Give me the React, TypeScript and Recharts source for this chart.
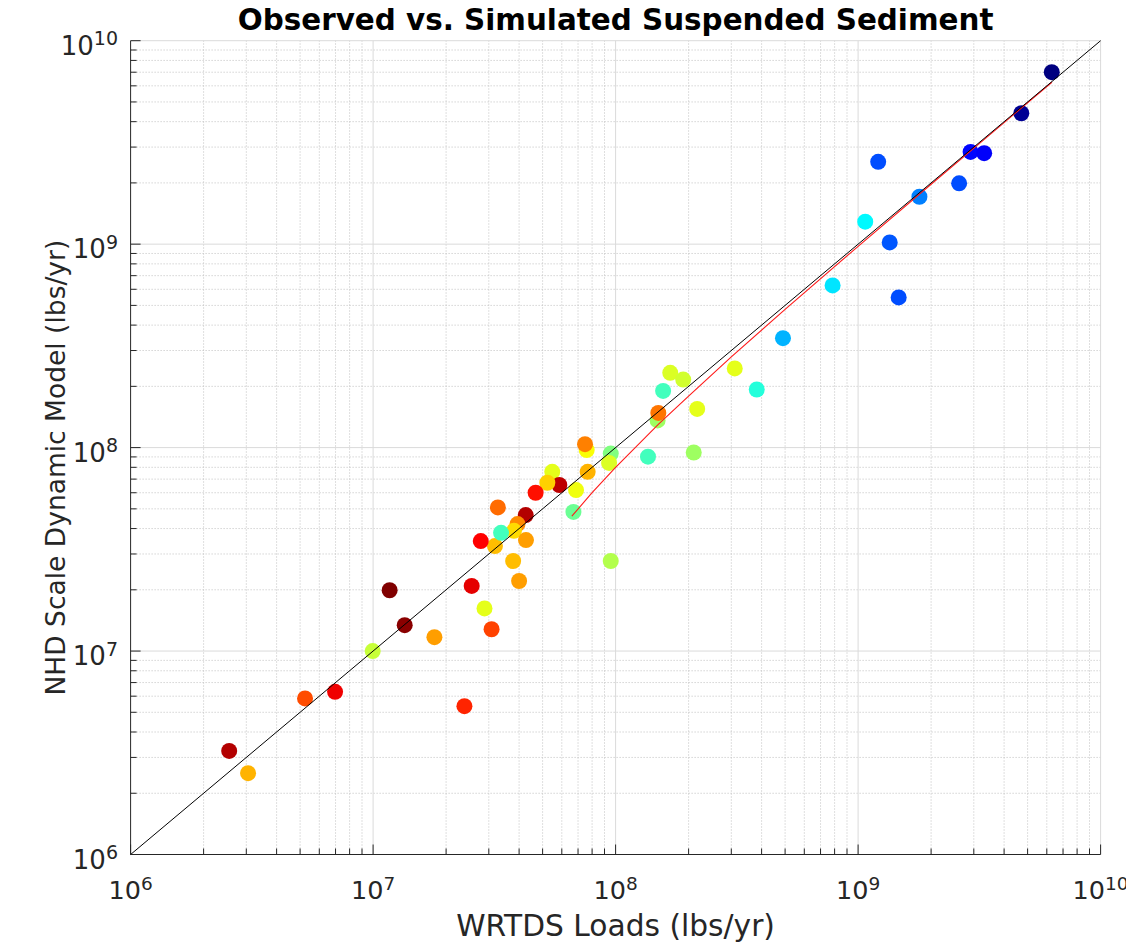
import React from 'react';
import { ScatterChart, Scatter, XAxis, YAxis, ReferenceLine, Label } from 'recharts';

// Axis decades and minor multipliers (log axes)
const decades = [1e6, 1e7, 1e8, 1e9, 1e10];
const minorSteps = [2, 3, 4, 5, 6, 7, 8, 9];

// Observed (WRTDS) loads, lbs/yr
const wrtdsLoads = [
  6.29e9, 4.71e9, 2.91e9, 3.31e9, 1.21e9, 2.61e9, 1.79e9, 1.07e9, 1.35e9, 7.85e8,
  1.47e9, 4.9e8, 3.82e8, 3.1e8, 1.68e8, 1.9e8, 1.57e8, 1.49e8, 1.5e8, 2.17e8,
  2.1e8, 1.36e8, 7.6e7, 7.48e7, 9.55e7, 9.4e7, 5.48e7, 5.86e7, 5.23e7, 7.67e7,
  6.87e7, 4.68e7, 6.7e7, 3.27e7, 4.26e7, 3.94e7, 3.81e7, 3.18e7, 3.37e7, 2.78e7,
  4.27e7, 3.78e7, 4.0e7, 9.55e7, 2.55e7, 2.88e7, 1.17e7, 1.35e7, 1.79e7, 9.96e6,
  3.08e7, 2.38e7, 5.24e6, 6.97e6, 2.55e6, 3.05e6,
];
// Simulated (NHD scale dynamic model) loads, lbs/yr
const nhdModel = [
  7.0e9, 4.4e9, 2.84e9, 2.8e9, 2.54e9, 1.99e9, 1.71e9, 1.29e9, 1.02e9, 6.27e8,
  5.47e8, 3.45e8, 1.93e8, 2.45e8, 2.33e8, 2.16e8, 1.9e8, 1.36e8, 1.48e8, 1.55e8,
  9.46e7, 9.02e7, 9.73e7, 1.04e8, 9.35e7, 8.41e7, 7.6e7, 6.55e7, 6.72e7, 7.6e7,
  6.18e7, 6.0e7, 4.83e7, 5.08e7, 4.66e7, 4.21e7, 3.9e7, 3.28e7, 3.81e7, 3.47e7,
  3.51e7, 2.77e7, 2.21e7, 2.77e7, 2.09e7, 1.62e7, 1.99e7, 1.34e7, 1.17e7, 1.0e7,
  1.28e7, 5.36e6, 5.85e6, 6.3e6, 3.23e6, 2.51e6,
];
// Colour-map value per site (0 = navy ... 1 = dark red, jet colormap)
const colorValue = [
  0.0, 0.02, 0.13, 0.12, 0.2, 0.2, 0.25, 0.37, 0.21, 0.35,
  0.2, 0.3, 0.41, 0.6, 0.59, 0.58, 0.44, 0.53, 0.76, 0.6,
  0.53, 0.44, 0.62, 0.75, 0.5, 0.59, 0.6, 0.94, 0.67, 0.7,
  0.61, 0.86, 0.48, 0.77, 0.95, 0.74, 0.66, 0.69, 0.44, 0.875,
  0.72, 0.69, 0.72, 0.55, 0.9, 0.6, 1.0, 0.99, 0.72, 0.57,
  0.81, 0.84, 0.8, 0.89, 0.95, 0.7,
];

// Regression (fit) curve
const fitWrtds = [6.6e7, 8e7, 1e8, 1.5e8, 2e8, 3e8, 5e8, 1e9, 2e9, 4e9, 6.3e9];
const fitNhd = [4.6e7, 6.0e7, 8.0e7, 1.3e8, 1.79e8, 2.79e8, 4.78e8, 9.76e8, 1.97e9, 3.96e9, 6.25e9];

// 1:1 line end points
const identityRange = [1e6, 1e10];

const minorTicks = decades.slice(0, -1).flatMap((d) => minorSteps.map((m) => m * d));
const allTicks = [...decades, ...minorTicks].sort((a, b) => a - b);
const points = wrtdsLoads.map((x, i) => ({ x, y: nhdModel[i], c: colorValue[i] }));
const fitLine = fitWrtds.map((x, i) => ({ x, y: fitNhd[i] }));

function jet(v: number) {
  const f = (t: number) => Math.max(0, Math.min(1, 1.5 - Math.abs(t)));
  const r = Math.round(255 * f(4 * v - 3));
  const g = Math.round(255 * f(4 * v - 2));
  const b = Math.round(255 * f(4 * v - 1));
  return `rgb(${r},${g},${b})`;
}

const FONT = "'DejaVu Sans', sans-serif";
const AX = '#262626';

const W = 1126;
const H = 936;
const PLOT_LEFT = 122.6;
const PLOT_TOP = 32.7;
const PLOT_RIGHT_MARGIN = 33.4;
const XAXIS_H = 89.5;

const isMajor = (v: number) => decades.some((d) => Math.abs(d - v) / d < 1e-9);

function XTick(props: any) {
  const { x, y, payload } = props;
  const v = payload.value;
  const major = isMajor(v);
  return (
    <g>
      <line x1={x} x2={x} y1={y} y2={y - (major ? 10 : 6)} stroke={AX} strokeWidth={1} />
      {major && (
        <text x={x} y={y + 44.5} textAnchor="middle" fill={AX} fontFamily={FONT} fontSize={25.5}>
          10<tspan fontSize={18.5} dy={-9}>{Math.round(Math.log10(v))}</tspan>
        </text>
      )}
    </g>
  );
}

function YTick(props: any) {
  const { x, y, payload } = props;
  const v = payload.value;
  const major = isMajor(v);
  return (
    <g>
      <line x1={x} x2={x + (major ? 10 : 6)} y1={y} y2={y} stroke={AX} strokeWidth={1} />
      {major && (
        <text x={x - 12.6} y={y + 14} textAnchor="end" fill={AX} fontFamily={FONT} fontSize={26}>
          10<tspan fontSize={19} dy={-9.5}>{Math.round(Math.log10(v))}</tspan>
        </text>
      )}
    </g>
  );
}

export default function App() {
  const plotW = W - PLOT_LEFT - PLOT_RIGHT_MARGIN;
  return (
    <div style={{ position: 'relative', width: W, height: H }}>
      <ScatterChart
        width={W}
        height={H}
        margin={{ top: PLOT_TOP, right: PLOT_RIGHT_MARGIN, bottom: 0, left: 0 }}
      >
        <XAxis
          type="number"
          dataKey="x"
          scale="log"
          domain={[1e6, 1e10]}
          allowDataOverflow
          ticks={allTicks}
          interval={0}
          tick={(p: any) => <XTick {...p} />}
          tickSize={0}
          tickMargin={0}
          tickLine={false}
          axisLine={{ stroke: AX, strokeWidth: 1 }}
          height={XAXIS_H}
        >
          <Label
            content={(p: any) => {
              const vb = p.viewBox;
              return (
                <text x={vb.x + vb.width / 2} y={vb.y + 81} textAnchor="middle" fill={AX} fontFamily={FONT} fontSize={29.7}>
                  WRTDS Loads (lbs/yr)
                </text>
              );
            }}
          />
        </XAxis>
        <YAxis
          type="number"
          dataKey="y"
          scale="log"
          domain={[1e6, 1e10]}
          allowDataOverflow
          ticks={allTicks}
          interval={0}
          tick={(p: any) => <YTick {...p} />}
          tickSize={0}
          tickMargin={0}
          tickLine={false}
          axisLine={{ stroke: AX, strokeWidth: 1 }}
          width={PLOT_LEFT}
        >
          <Label
            content={(p: any) => {
              const vb = p.viewBox;
              const cy = vb.y + vb.height / 2 + 20;
              const cx = 57;
              return (
                <text x={cx} y={cy} transform={`rotate(-90 ${cx} ${cy})`} textAnchor="middle" fill={AX} fontFamily={FONT} fontSize={26.5}>
                  NHD Scale Dynamic Model (lbs/yr)
                </text>
              );
            }}
          />
        </YAxis>

        {minorTicks.map((v) => (
          <ReferenceLine key={'mx' + v} x={v} stroke="#bfbfbf" strokeDasharray="1 2" strokeWidth={1} zIndex={-50} />
        ))}
        {minorTicks.map((v) => (
          <ReferenceLine key={'my' + v} y={v} stroke="#bfbfbf" strokeDasharray="1 2" strokeWidth={1} zIndex={-50} />
        ))}
        {decades.slice(1).map((v) => (
          <ReferenceLine key={'Mx' + v} x={v} stroke="#dadada" strokeWidth={1} zIndex={-40} />
        ))}
        {decades.slice(1).map((v) => (
          <ReferenceLine key={'My' + v} y={v} stroke="#dadada" strokeWidth={1} zIndex={-40} />
        ))}

        <Scatter
          data={points}
          isAnimationActive={false}
          shape={(p: any) => <circle cx={p.cx} cy={p.cy} r={8} fill={jet(p.payload.c)} />}
        />
        <Scatter
          data={fitLine}
          isAnimationActive={false}
          line={{ stroke: '#ff1a1a', strokeWidth: 1.1 }}
          lineType="joint"
          shape={() => <g />}
          zIndex={650}
        />
        <ReferenceLine
          segment={[
            { x: identityRange[0], y: identityRange[0] },
            { x: identityRange[1], y: identityRange[1] },
          ]}
          stroke="#000"
          strokeWidth={1}
          ifOverflow="visible"
          zIndex={700}
        />
      </ScatterChart>
      <svg width={W + 8} height={60} style={{ position: 'absolute', left: -8, top: -8, pointerEvents: 'none' }}>
        <text x={8 + PLOT_LEFT + plotW / 2} y={30} textAnchor="middle" fill="#000" fontFamily={FONT} fontWeight="bold" fontSize={29.4}>
          Observed vs. Simulated Suspended Sediment
        </text>
      </svg>
    </div>
  );
}
